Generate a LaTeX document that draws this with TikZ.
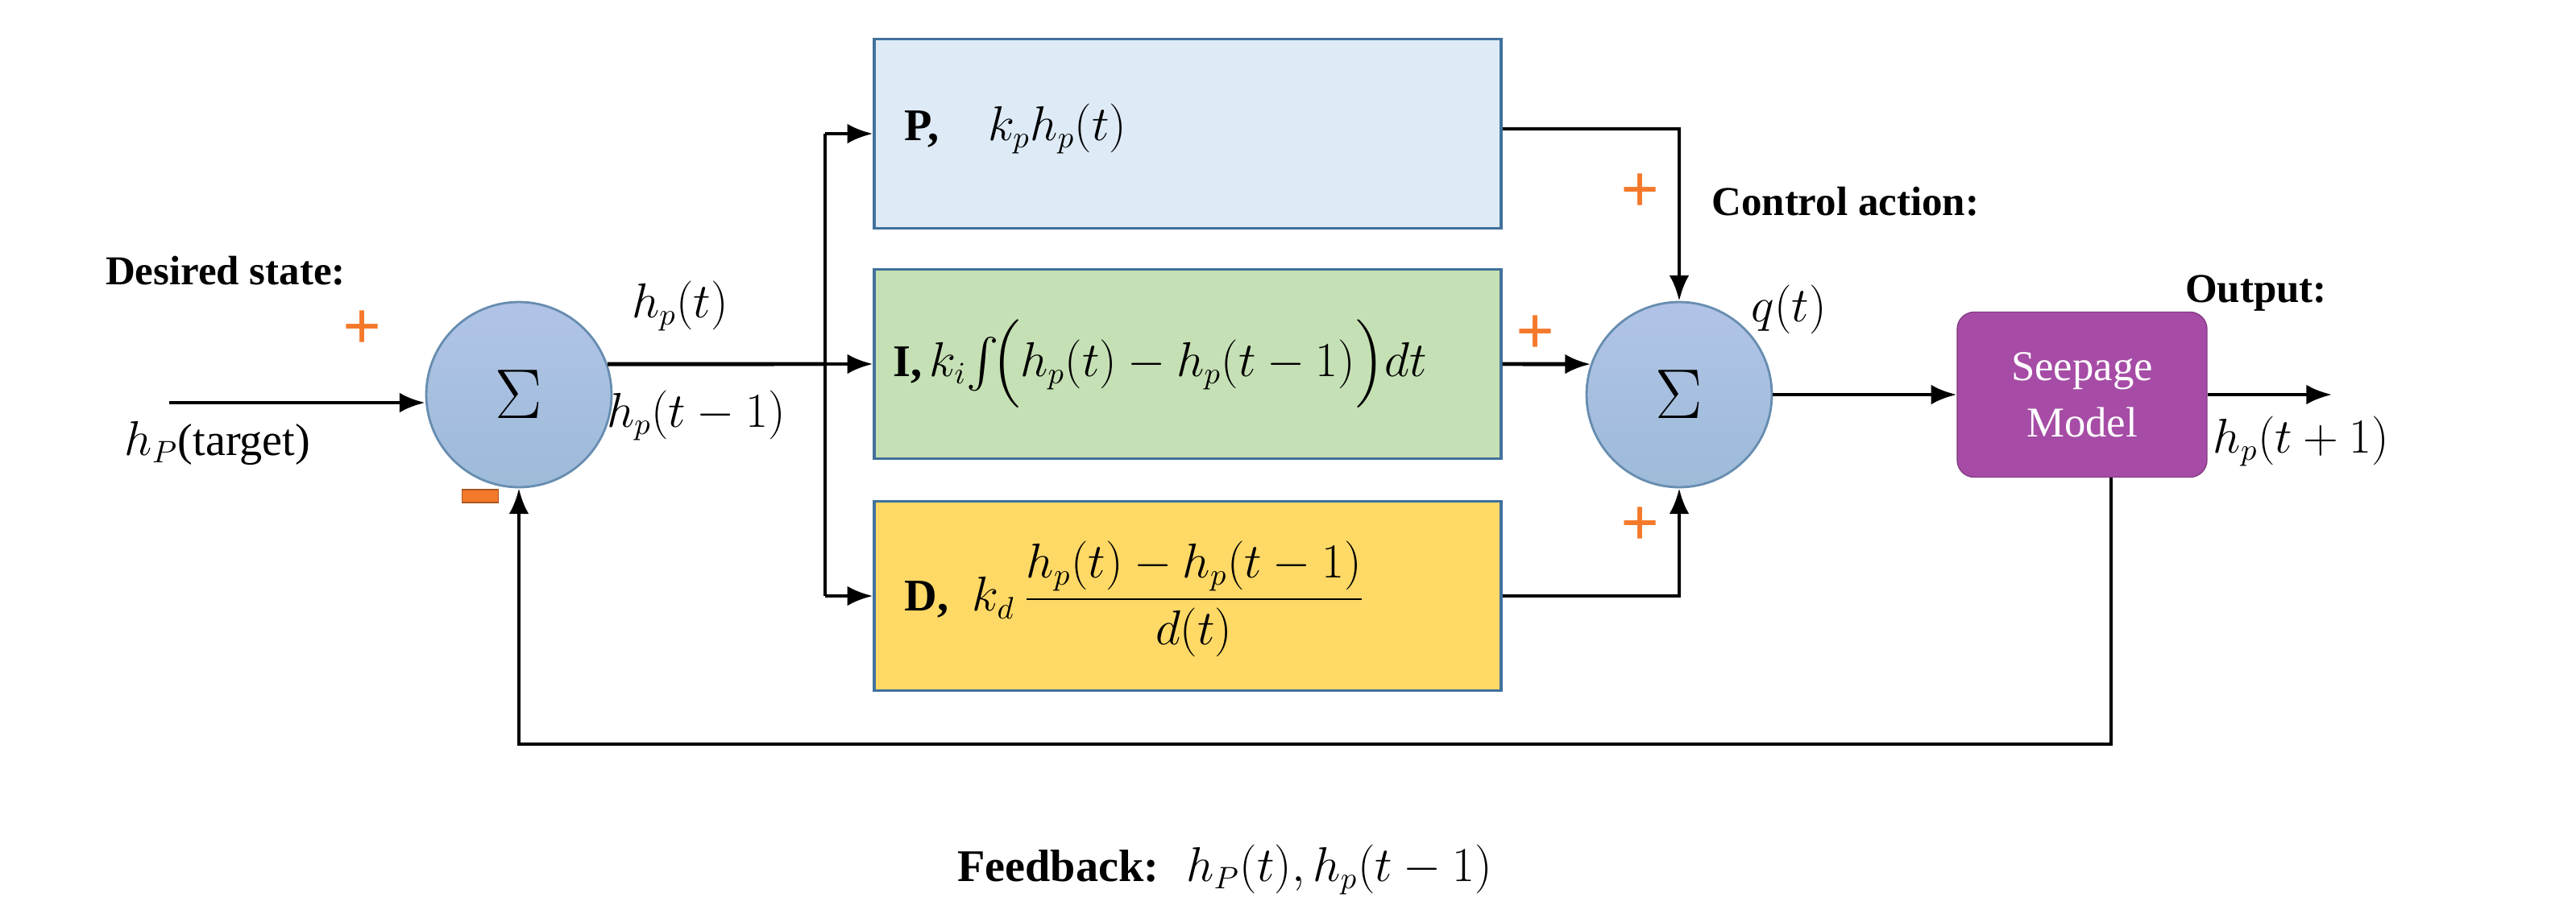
\documentclass[tikz,border=0pt]{standalone}
\usepackage{amsmath}
\usepackage{fontspec}
\setmainfont{Liberation Serif}
\usetikzlibrary{positioning,arrows.meta}
\definecolor{pblue}{HTML}{DEEBF7}
\definecolor{igreen}{HTML}{C5E0B4}
\definecolor{dyellow}{HTML}{FFD966}
\definecolor{bord}{HTML}{41719C}
\definecolor{sumblue}{HTML}{8FAADC}
\definecolor{seep}{HTML}{A64CA6}
\definecolor{porange}{HTML}{F4792B}
\tikzset{
  blk/.style={draw=bord, line width=1pt, minimum width=7.78cm, minimum height=2.35cm, inner sep=0pt},
  summ/.style={circle, draw=bord!80, line width=0.8pt, minimum size=2.3cm, top color=sumblue!70, bottom color=sumblue!110!blue, inner sep=0pt},
  lbl/.style={font=\fontsize{14.5}{17}\selectfont\bfseries},
  mth/.style={font=\fontsize{16}{19}\selectfont},
  sig/.style={font=\fontsize{24}{26}\selectfont\bfseries, text=porange},
  arr/.style={-{Latex[length=9pt,width=7pt]}, line width=1.4pt},
  ln/.style={line width=1.4pt}
}
\begin{document}
\begin{tikzpicture}[x=0.02cm,y=-0.02cm]
\useasboundingbox (0,0) rectangle (1598.5,562);
%summing points
\node[summ] (s1) at (322,245) {\fontsize{26}{30}\selectfont$\Sigma$};
\node[summ] (s2) at (1042,245) {\fontsize{26}{30}\selectfont$\Sigma$};
%blocks
\node[blk, fill=pblue] (pb) at (737,83) {};
\node[blk, fill=igreen] (ib) at (737,226) {};
\node[blk, fill=dyellow] (db) at (737,370) {};
\node[draw=seep!80!black, fill=seep, rounded corners=6pt, minimum width=3.1cm, minimum height=2.05cm, align=center, text=white, font=\fontsize{15}{20}\selectfont] (sm) at (1292,245) {Seepage\\Model};
%block texts
\node[anchor=west, mth] (pt) at (555,80) {\textbf{P,}\;\;\; $k_p h_p(t)$};
\node[anchor=west, mth] (it) at (548,226) {\textbf{I,}\,$k_i\!\int\!\Bigl(h_p(t)-h_p(t-1)\Bigr)dt$};
\node[anchor=west, mth] (dt) at (555,372) {\textbf{D,}\; $k_d\,\dfrac{h_p(t)-h_p(t-1)}{d(t)}$};
%coordinates
\coordinate (in) at (105,250);
\coordinate (sp) at (512,226);
\coordinate (pc) at (1042,83);
\coordinate (dc) at (1042,372);
\coordinate (out) at (1447,245);
\coordinate (fb1) at (1310,462);
\coordinate (fb2) at (322,462);
%connectors
\draw[arr] (in) -- (s1.west |- in);
\draw[ln] (s1.19) -- (sp);
\draw[ln] (sp |- pb) -- (sp |- db);
\draw[arr] (sp |- pb) -- (pb.west);
\draw[arr] (sp) -- (ib.west);
\draw[arr] (sp |- db) -- (db.west);
\draw[arr] (pb.east |- pt) -- (pc |- pt) -- (s2.north);
\draw[arr] (ib.east) -- (s2.161);
\draw[arr] (db.east) -- (dc |- db) -- (s2.south);
\draw[arr] (s2.east) -- (sm.west);
\draw[arr] (sm.east) -- (out);
\draw[arr] (sm.south -| fb1) -- (fb1) -- (fb2) -- (s1.south);
%labels
\node[lbl] (ds) at (140,168) {Desired state:};
\node[mth] (ht) at (135,275) {$h_P$(target)};
\node[mth] (h1) at (422,190) {$h_p(t)$};
\node[mth] (h2) at (432,258) {$h_p(t-1)$};
\node[lbl, anchor=west] (ca) at (1056,125) {Control action:};
\node[mth] (qt) at (1110,192) {$q(t)$};
\node[lbl] (op) at (1400,182) {Output:};
\node[mth] (hout) at (1428,274) {$h_p(t+1)$};
\node[mth, anchor=west] (fbt) at (588,540) {\textbf{Feedback:}\; $h_P(t), h_p(t-1)$};
%signs
\node[sig] (p1) at (225,205) {+};
\node[sig] (p2) at (1018,120) {+};
\node[sig] (p3) at (953,208) {+};
\node[sig] (p4) at (1018,327) {+};
\node[fill=porange, draw=porange!70!black, minimum width=0.45cm, minimum height=0.16cm, inner sep=0pt] (m1) at (298,308) {};
\end{tikzpicture}
\end{document}
